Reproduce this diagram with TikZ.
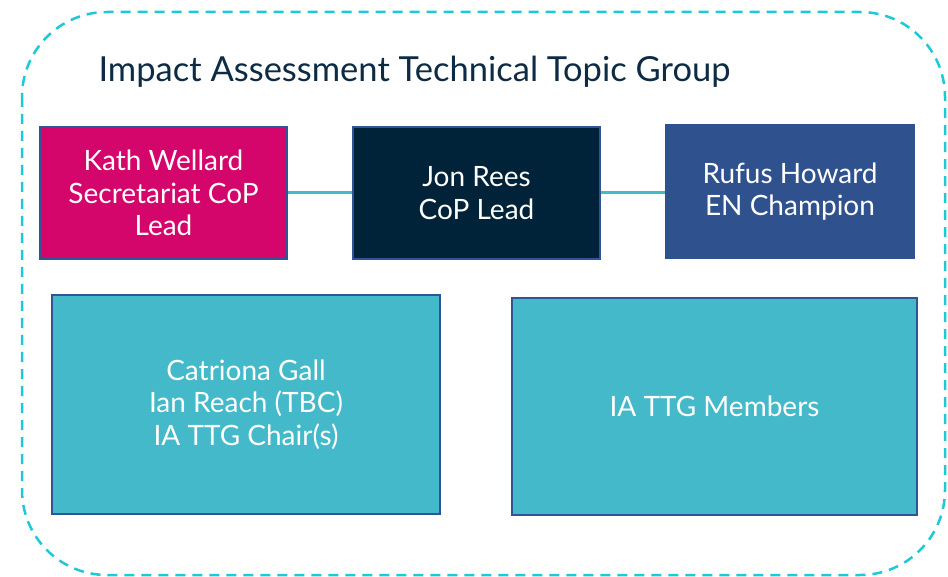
\documentclass[tikz,border=0pt]{standalone}
\usepackage{fontspec}
\setmainfont{Lato}
\usetikzlibrary{positioning}
\definecolor{dashcyan}{RGB}{30,200,215}
\definecolor{linkteal}{RGB}{68,185,201}
\definecolor{secmagenta}{RGB}{212,6,107}
\definecolor{leadnavy}{RGB}{0,35,57}
\definecolor{champblue}{RGB}{47,82,143}
\definecolor{edgeblue}{RGB}{47,85,151}
\definecolor{titlenavy}{RGB}{13,43,69}
\begin{document}
\begin{tikzpicture}[x=1pt,y=-1pt,
    role box/.style={rectangle,draw=edgeblue,line width=1.5pt,text=white,align=center,
      font=\fontsize{28}{32.5}\selectfont,inner sep=0pt},
    link/.style={draw=linkteal,line width=3pt}]
  \useasboundingbox (0,0) rectangle (948,577);
  \draw[dashcyan,line width=2.5pt,dash pattern=on 10pt off 7pt,rounded corners=85pt] (22,12) rectangle (945,575);
  \node[anchor=base west,text=titlenavy,font=\fontsize{34.5}{40}\selectfont] (title) at (95,82) {Impact Assessment Technical Topic Group};
  \node[role box,fill=secmagenta,minimum width=247pt,minimum height=132pt] (kath) at (163.5,193) {Kath Wellard\\Secretariat CoP\\Lead};
  \node[role box,fill=leadnavy,minimum width=247pt,minimum height=132pt] (jon) at (476.5,193) {Jon Rees\\CoP Lead};
  \node[role box,fill=champblue,draw=champblue,minimum width=248pt,minimum height=133pt] (rufus) at (790,191.5) {Rufus Howard\\EN Champion};
  \node[role box,fill=linkteal,minimum width=388pt,minimum height=219pt] (chairs) at (246,404.5) {Catriona Gall\\Ian Reach (TBC)\\IA TTG Chair(s)};
  \node[role box,fill=linkteal,minimum width=405pt,minimum height=217pt] (members) at (714.5,406.5) {IA TTG Members};
  \draw[link] (kath.east) -- (jon.west);
  \draw[link] (jon.east) -- (jon.east -| rufus.west);
\end{tikzpicture}
\end{document}
